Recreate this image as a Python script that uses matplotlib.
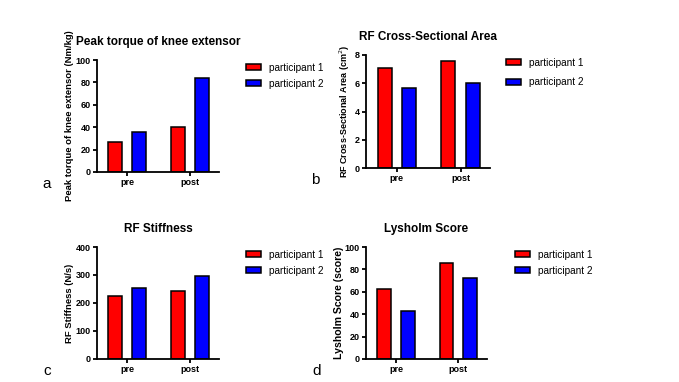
import numpy as np
import matplotlib.pyplot as plt

plt.rcParams['font.family'] = ['Liberation Sans', 'DejaVu Sans']

groups = ['pre', 'post']
series = ['participant 1', 'participant 2']
colors = ['#ff0000', '#0000ff']

torque_p1 = [27, 40.5]
torque_p2 = [36, 84]
csa_p1 = [7.05, 7.6]
csa_p2 = [5.65, 6.0]
stiff_p1 = [225, 243]
stiff_p2 = [254, 295]
lysholm_p1 = [62.5, 86]
lysholm_p2 = [43, 72.5]

W, H = 679, 382
fig = plt.figure(figsize=(W / 100, H / 100), dpi=100)


def px_axes(x0, y0, x1, y1):
    # pixel box (top-left origin) -> figure fraction
    return fig.add_axes([x0 / W, 1 - y1 / H, (x1 - x0) / W, (y1 - y0) / H])


def panel(box, p1, p2, ymax, step, title, ylabel, letter, leg_x,
          spacing=0.6, ysize=6.8, ypad=1):
    ax = px_axes(*box)
    x = np.arange(len(groups))
    for i, vals in enumerate([p1, p2]):
        ax.bar(x + (i - 0.5) * 0.38, vals, width=0.22, color=colors[i],
               edgecolor='black', linewidth=1.1, label=series[i])
    ax.set_xlim(-0.48, 1.46)
    ax.set_ylim(0, ymax)
    ax.set_yticks(np.arange(0, ymax + step / 2, step))
    ax.set_xticks(x)
    ax.set_xticklabels(groups)
    for s in ['top', 'right']:
        ax.spines[s].set_visible(False)
    for s in ['left', 'bottom']:
        ax.spines[s].set_linewidth(1.3)
    ax.tick_params(width=1.3, length=3, labelsize=6.5, pad=1.5)
    for lab in ax.get_xticklabels() + ax.get_yticklabels():
        lab.set_fontweight('bold')
    ax.set_title(title, fontsize=8.5, fontweight='bold', pad=11)
    ax.set_ylabel(ylabel, fontsize=ysize, fontweight='bold', labelpad=ypad)
    ax.text(-0.41, -0.11, letter, transform=ax.transAxes, fontsize=11,
            fontweight='medium', ha='center', va='center')
    ax.legend(loc='upper left', bbox_to_anchor=(leg_x, 1.055), frameon=False,
              fontsize=7.2, handlelength=1.5, handleheight=0.6,
              labelspacing=spacing, handletextpad=0.8)
    return ax


panel((97, 60, 219, 172), torque_p1, torque_p2, 100, 20,
      'Peak torque of knee extensor', 'Peak torque of knee extensor (Nm/kg)',
      'a', 1.15)
panel((366, 55, 490, 168), csa_p1, csa_p2, 8, 2,
      'RF Cross-Sectional Area', 'RF Cross-Sectional Area (cm$^2$)',
      'b', 1.06, spacing=0.95, ysize=6.5, ypad=2)
panel((97, 247, 219, 359), stiff_p1, stiff_p2, 400, 100,
      'RF Stiffness', 'RF Stiffness (N/s)',
      'c', 1.15)
panel((366, 247, 487, 359), lysholm_p1, lysholm_p2, 100, 20,
      'Lysholm Score', 'Lysholm Score (score)',
      'd', 1.16, ysize=7.6, ypad=0.5)

fig.savefig('out.png', dpi=100)
